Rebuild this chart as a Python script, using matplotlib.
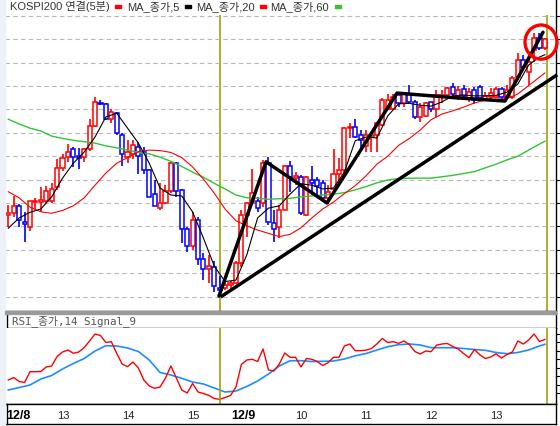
import numpy as np
import matplotlib
matplotlib.use('Agg')
import matplotlib.pyplot as plt
from matplotlib.patches import Ellipse, Rectangle

# 5-minute KOSPI200 candles, index 0..99
opens = [252.74, 252.79, 252.94, 252.59, 252.48, 253.02, 253.02, 253.04, 253.04, 253.34,
         253.74, 253.99, 254.15, 254.00, 253.99, 254.15, 254.65, 255.14, 255.12, 254.79,
         254.92, 254.45, 253.99, 254.05, 254.20, 254.10, 253.71, 253.19, 252.89, 252.99,
         253.26, 253.85, 253.28, 252.44, 252.08, 252.64, 251.80, 251.58, 251.64, 251.19,
         251.18, 251.25, 251.28, 251.72, 252.74, 252.99, 253.05, 252.99, 253.86, 252.58,
         252.48, 252.85, 253.78, 253.53, 253.55, 252.74, 253.49, 253.49, 253.43, 253.10,
         253.29, 253.63, 253.71, 254.60, 254.63, 254.45, 254.22, 254.41, 254.45, 254.67,
         255.00, 255.00, 255.31, 255.13, 255.34, 255.15, 254.84, 254.86, 255.15, 255.00,
         255.27, 255.31, 255.49, 255.27, 255.44, 255.24, 255.41, 255.49, 255.22, 255.26,
         255.27, 255.43, 255.26, 255.27, 255.70, 256.06, 255.80, 256.27, 256.52, 256.31]
highs = [252.96, 253.15, 252.98, 252.81, 253.04, 253.11, 253.34, 253.36, 253.42, 253.93,
         254.05, 254.26, 254.20, 254.17, 254.17, 254.79, 255.27, 255.20, 255.13, 255.00,
         254.94, 254.49, 254.35, 254.35, 254.31, 254.20, 253.72, 253.49, 253.42, 253.38,
         253.88, 253.88, 253.29, 252.49, 252.81, 252.71, 251.93, 251.89, 251.75, 251.43,
         251.32, 251.33, 251.75, 252.85, 253.03, 253.72, 253.13, 253.92, 253.99, 252.85,
         252.96, 253.81, 253.90, 253.66, 253.60, 253.58, 253.79, 253.55, 253.49, 253.38,
         254.15, 253.96, 254.62, 254.72, 254.79, 254.56, 254.56, 254.47, 254.74, 255.24,
         255.34, 255.34, 255.38, 255.38, 255.52, 255.20, 255.13, 255.16, 255.16, 255.41,
         255.41, 255.49, 255.56, 255.50, 255.52, 255.46, 255.48, 255.52, 255.38, 255.45,
         255.49, 255.49, 255.52, 255.71, 256.20, 256.16, 256.10, 256.63, 256.63, 256.53]
lows = [252.49, 252.71, 252.49, 252.17, 252.39, 252.85, 252.81, 253.01, 252.99, 253.28,
        253.69, 253.88, 253.76, 253.72, 253.88, 254.12, 254.63, 255.09, 254.77, 254.72,
        254.45, 253.79, 253.86, 253.93, 253.62, 253.62, 253.12, 252.93, 252.84, 252.98,
        253.21, 253.13, 252.15, 251.96, 252.00, 251.68, 251.35, 251.28, 251.10, 251.03,
        251.13, 251.14, 251.27, 251.64, 252.28, 252.96, 252.81, 252.92, 252.53, 252.17,
        252.25, 252.84, 253.24, 253.38, 252.74, 252.72, 253.17, 253.10, 253.08, 252.98,
        253.24, 253.38, 253.56, 254.38, 254.38, 254.15, 254.10, 254.10, 254.10, 254.65,
        254.99, 254.99, 255.06, 255.06, 255.13, 254.79, 254.74, 254.84, 254.95, 254.84,
        255.13, 255.27, 255.27, 255.20, 255.22, 255.16, 255.12, 255.20, 255.20, 255.20,
        255.24, 255.20, 255.20, 255.22, 255.63, 255.84, 255.52, 256.01, 256.27, 256.27]
closes = [252.79, 252.94, 252.64, 252.55, 253.04, 253.04, 253.06, 253.25, 253.29, 253.74,
          253.96, 254.10, 253.99, 253.96, 254.15, 254.65, 255.15, 255.12, 254.79, 254.94,
          254.49, 254.05, 254.10, 254.25, 254.00, 253.71, 253.13, 252.94, 252.99, 253.26,
          253.85, 253.26, 252.44, 252.08, 252.64, 251.80, 251.58, 251.65, 251.23, 251.13,
          251.25, 251.29, 251.72, 252.74, 252.99, 253.21, 252.89, 253.86, 252.60, 252.44,
          252.85, 253.78, 253.55, 253.58, 252.79, 253.55, 253.42, 253.36, 253.10, 253.24,
          253.63, 253.71, 254.60, 254.63, 254.42, 254.35, 254.45, 254.45, 254.72, 255.20,
          255.20, 255.26, 255.14, 255.34, 255.16, 254.84, 255.06, 255.13, 255.00, 255.31,
          255.31, 255.45, 255.34, 255.41, 255.29, 255.37, 255.20, 255.24, 255.29, 255.36,
          255.43, 255.27, 255.41, 255.67, 256.06, 255.91, 256.01, 256.52, 256.31, 256.50]

# moving averages / signal read every second bar
ma_idx = list(range(0, 100, 2)) + [99]
ma5 = [252.46, 252.68, 252.80, 252.87, 253.13, 253.53, 253.85, 254.09, 254.41, 254.84,
       254.92, 254.60, 254.28, 253.85, 253.32, 253.17, 253.15, 252.81, 252.25, 251.65,
       251.32, 251.35, 251.89, 252.68, 252.89, 252.94, 253.19, 253.41, 253.38, 253.30,
       253.32, 253.66, 254.33, 254.41, 254.39, 254.86, 255.12, 255.13, 255.09, 255.07,
       255.16, 255.29, 255.31, 255.29, 255.29, 255.30, 255.37, 255.54, 255.95, 256.12, 256.17]
ma20 = [253.24, 253.11, 252.91, 252.81, 252.78, 252.84, 252.94, 253.11, 253.38, 253.64,
        253.85, 253.97, 254.10, 254.13, 254.12, 254.08, 253.97, 253.77, 253.51, 253.21,
        252.87, 252.62, 252.51, 252.42, 252.35, 252.28, 252.33, 252.47, 252.68, 252.87,
        253.02, 253.20, 253.37, 253.58, 253.83, 254.00, 254.23, 254.38, 254.56, 254.78,
        254.90, 254.97, 255.05, 255.14, 255.20, 255.22, 255.23, 255.33, 255.51, 255.69, 255.78]
ma60 = [254.79, 254.69, 254.60, 254.54, 254.43, 254.38, 254.34, 254.31, 254.28, 254.22,
        254.18, 254.13, 254.08, 254.05, 253.98, 253.89, 253.78, 253.66, 253.55, 253.42,
        253.30, 253.17, 253.11, 253.10, 253.08, 253.09, 253.10, 253.13, 253.15, 253.17,
        253.19, 253.22, 253.28, 253.35, 253.43, 253.49, 253.52, 253.53, 253.53, 253.53,
        253.56, 253.59, 253.63, 253.67, 253.75, 253.83, 253.92, 254.00, 254.13, 254.26, 254.32]

rsi = [44.0, 46.5, 42.5, 41.5, 52.3, 52.3, 52.5, 57.0, 58.0, 67.5,
       72.0, 74.0, 70.7, 72.0, 76.5, 83.0, 90.0, 88.5, 81.5, 82.3,
       70.7, 60.0, 57.3, 62.0, 56.0, 44.0, 38.0, 35.7, 37.0, 46.0,
       58.0, 46.0, 34.0, 31.0, 40.5, 32.0, 30.5, 28.5, 25.5, 24.7,
       26.5, 28.5, 37.0, 59.5, 64.0, 64.7, 62.5, 75.0, 54.0, 53.0,
       60.0, 71.0, 66.7, 66.7, 57.0, 65.5, 64.7, 62.5, 58.5, 61.3,
       66.7, 66.7, 78.0, 80.0, 73.3, 73.3, 73.8, 75.5, 80.0, 85.5,
       81.5, 82.3, 80.7, 83.0, 79.5, 72.5, 70.0, 73.0, 72.3, 78.8,
       80.0, 80.5, 77.5, 75.0, 70.5, 66.3, 74.5, 69.2, 65.5, 67.0,
       70.2, 66.0, 69.5, 72.0, 83.0, 80.0, 84.0, 90.0, 82.5, 84.5]
signal = [34.0, 36.5, 39.0, 45.0, 48.5, 55.0, 60.5, 65.5, 73.0, 78.3,
          78.0, 76.0, 72.5, 64.0, 51.5, 49.0, 45.7, 42.0, 40.0, 36.0,
          32.0, 33.0, 37.5, 43.0, 50.0, 58.0, 63.3, 63.3, 62.5, 62.7,
          63.0, 65.0, 68.2, 70.5, 74.0, 77.3, 79.3, 80.0, 79.0, 76.3,
          76.3, 76.3, 75.5, 74.5, 73.7, 71.5, 70.3, 71.5, 74.0, 78.0, 79.7]

# hand-drawn trend lines (bar index, price)
zigzag_idx = [38.87, 47.55, 58.80, 71.72, 82.42, 91.64, 98.65]
zigzag_px = [251.01, 253.88, 253.00, 255.35, 255.25, 255.18, 256.65]
trend_idx = [39.43, 101.0]
trend_px = [251.01, 255.72]

day_lines = [39.05, 99.35]
tick_pos = [1.9, 10.1, 22.1, 34.1, 43.3, 54.0, 66.0, 78.0, 90.0]
tick_lab = ['12/8', '13', '14', '15', '12/9', '10', '11', '12', '13']
tick_bold = [True, False, False, False, True, False, False, False, False]

W, H = 560, 426
fig = plt.figure(figsize=(W / 100, H / 100), dpi=100)
fig.patch.set_facecolor('white')


def fx(p):
    return p / W


def fy(p):
    return 1 - p / H


xlim = (-0.61, 101.05)
olive = '#a3a000'
fig.patches.append(Rectangle((0, 0), fx(5), 1, transform=fig.transFigure,
                             color='#eef1f7', zorder=0))
fig.patches.append(Rectangle((fx(5), fy(313.5)), fx(551), 2.5 / H, transform=fig.transFigure,
                             color='#9a9a9a', zorder=0))

# ---------------- price panel ----------------
ax = fig.add_axes([fx(5), fy(311), fx(551), 311 / H])
ax.set_xlim(*xlim)
ax.set_ylim(250.69, 257.34)
x = np.arange(len(opens))
o, h, l, c = map(np.array, (opens, highs, lows, closes))
cols = np.where(c >= o, '#ff0000', '#0000ff')
ax.vlines(x, l, h, colors=cols, lw=1.2, zorder=2)
ax.bar(x, np.abs(c - o), bottom=np.minimum(o, c), width=0.76, facecolor='white',
       edgecolor=cols, linewidth=1.1, zorder=3)
ax.plot(ma_idx, ma60, color='#33c433', lw=1.0, zorder=4)
ax.plot(ma_idx, ma20, color='#ff0000', lw=0.8, zorder=4)
ax.plot(ma_idx, ma5, color='black', lw=0.8, zorder=4)
ax.vlines(day_lines, 250.69, 257.02, color=olive, lw=1.2, zorder=1)
ax.plot(zigzag_idx, zigzag_px, color='black', lw=2.5, zorder=6, solid_capstyle='round')
ax.plot(trend_idx, trend_px, color='black', lw=2.5, zorder=6, clip_on=False)
ax.add_patch(Ellipse((98.28, 256.44), 5.9, 0.73, fill=False, ec='#ff0000', lw=2.4,
                     zorder=7, clip_on=False))

ax.set_yticks(np.arange(251.0, 257.01, 0.5))
ax.yaxis.grid(True, ls=(0, (4, 3)), color='#b8b8b8', lw=0.8)
ax.yaxis.tick_right()
ax.tick_params(axis='y', length=3, labelright=False, color='black')
ax.set_xticks([])
for s in ['top', 'left']:
    ax.spines[s].set_visible(False)
for s in ['right', 'bottom']:
    ax.spines[s].set_color('black')
    ax.spines[s].set_linewidth(1.0)

# legend row
leg_font = ['Liberation Sans', 'Noto Sans CJK KR']
items = [('KOSPI200 연결(5분)', 10, 115, '#ff0000'),
         ('MA_종가,5', 127, 185, 'black'),
         ('MA_종가,20', 196, 260, '#ff0000'),
         ('MA_종가,60', 270, 335, '#33c433')]
for label, tx, mx, mc in items:
    fig.text(fx(tx), fy(7), label, fontsize=8, family=leg_font, color='#333333',
             va='center', ha='left')
    fig.patches.append(Rectangle((fx(mx), fy(8)), fx(6), 3 / H,
                                 transform=fig.transFigure, color=mc, zorder=5))

# ---------------- RSI title box ----------------
axt = fig.add_axes([fx(6.5), fy(328), fx(549.5), 15 / H])
axt.set_xticks([])
axt.set_yticks([])
for s in axt.spines.values():
    s.set_color('black')
    s.set_linewidth(1.0)
axt.text(0.01, 0.45, 'RSI_종가,14 Signal_9', transform=axt.transAxes, va='center',
         ha='left', fontsize=7.8, family=['DejaVu Sans Mono', 'Noto Sans CJK KR'],
         color='#555555')

# ---------------- RSI panel ----------------
axr = fig.add_axes([fx(5), fy(404), fx(551), 76 / H])
axr.set_xlim(*xlim)
axr.set_ylim(20, 96)
axr.plot(ma_idx, signal, color='#1e8cff', lw=1.2)
axr.plot(x, rsi, color='#ff0000', lw=1.0)
for d in day_lines:
    axr.axvline(d, color=olive, lw=1.2)
axr.set_xticks([])
axr.yaxis.tick_right()
axr.set_yticks(np.arange(31, 95, 8.5))
axr.tick_params(axis='y', length=3, labelright=False, color='black')
for s in ['top', 'left']:
    axr.spines[s].set_visible(False)
for s in ['right', 'bottom']:
    axr.spines[s].set_color('black')
    axr.spines[s].set_linewidth(1.0)

# ---------------- time label strip ----------------
axl = fig.add_axes([fx(6.5), fy(424), fx(549.5), 20 / H])
axl.set_xlim(xlim[0] + 1.5 / 5.42, xlim[1])
axl.set_ylim(0, 1)
axl.set_xticks([])
axl.set_yticks([])
for s in axl.spines.values():
    s.set_color('black')
    s.set_linewidth(1.0)
for p, lab, b in zip(tick_pos, tick_lab, tick_bold):
    axl.text(p, 0.42, lab, ha='center', va='center', family='Liberation Sans',
             fontsize=9 if b else 8, fontweight='bold' if b else 'normal',
             color='black' if b else '#222222')

fig.savefig('out.png', dpi=100)
